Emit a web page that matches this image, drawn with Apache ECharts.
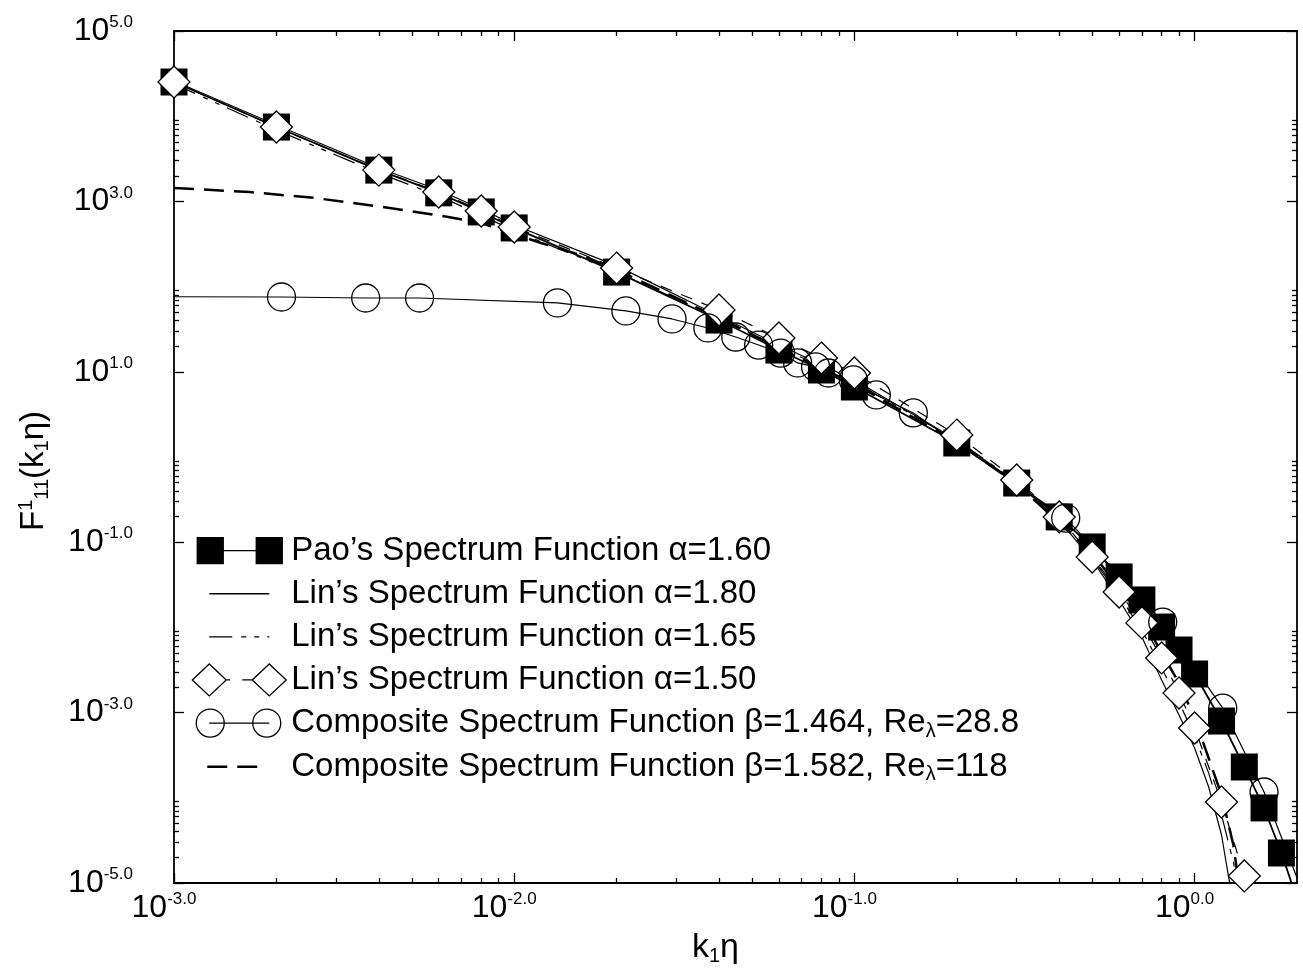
<!DOCTYPE html>
<html>
<head>
<meta charset="utf-8">
<script src="https://cdn.jsdelivr.net/npm/echarts@6/dist/echarts.min.js"></script>
<style>
html,body{margin:0;padding:0;background:#fff;}
#chart{width:1303px;height:975px;}
</style>
</head>
<body>
<div id="chart"></div>
<script>
// ---------------- axis ticks & labels ----------------
const xMajorTicks = [0.001, 0.01, 0.1, 1];
const xTickExps   = ['-3.0', '-2.0', '-1.0', '0.0'];
const xMinorTicks = [0.002,0.003,0.004,0.005,0.006,0.007,0.008,0.009,
                     0.02,0.03,0.04,0.05,0.06,0.07,0.08,0.09,
                     0.2,0.3,0.4,0.5,0.6,0.7,0.8,0.9];
const yMajorTicks = [1e-5, 1e-3, 1e-1, 1e1, 1e3, 1e5];
const yTickExps   = ['-5.0', '-3.0', '-1.0', '1.0', '3.0', '5.0'];
const yMinorTicks = [2e-5,3e-5,4e-5,5e-5,6e-5,7e-5,8e-5,9e-5,
                     2e-3,3e-3,4e-3,5e-3,6e-3,7e-3,8e-3,9e-3,
                     0.2,0.3,0.4,0.5,0.6,0.7,0.8,0.9,
                     20,30,40,50,60,70,80,90,
                     2000,3000,4000,5000,6000,7000,8000,9000];

// ---------------- series names ----------------
const names = [
  'Pao\u2019s Spectrum Function \u03b1=1.60',
  'Lin\u2019s Spectrum Function \u03b1=1.80',
  'Lin\u2019s Spectrum Function \u03b1=1.65',
  'Lin\u2019s Spectrum Function \u03b1=1.50',
  'Composite Spectrum Function \u03b2=1.464, Re\u03bb=28.8',
  'Composite Spectrum Function \u03b2=1.582, Re\u03bb=118'
];

// ---------------- data (k1*eta, F11) ----------------
// Pao alpha=1.60 (filled squares)
const paoK = [0.001,0.002,0.004,0.006,0.008,0.01,0.02,0.04,0.06,0.08,0.1,0.2,0.3,0.4,0.5,0.6,0.7,0.8,0.9,1.0,1.2,1.4,1.6,1.8];
const paoF = [2.52e4,7.46e3,2.33e3,1.26e3,752,488,148,40.5,18.0,10.5,6.63,1.46,0.495,0.198,0.0879,0.0391,0.0210,0.0101,0.00543,0.00284,7.96e-4,2.30e-4,7.6e-5,2.25e-5];
const paoTailK = [2.0];
const paoTailF = [6.5e-6];

// Lin alpha=1.80 (thin solid)
const lin180K = [0.001,0.002,0.004,0.006,0.008,0.01,0.02,0.04,0.06,0.1,0.2,0.3,0.4,0.5,0.6,0.7,0.8,0.9,1.0,1.1,1.2,1.3];
const lin180F = [2.59e4,7.89e3,2.47e3,1.36e3,815,528,175,45.2,20.6,8.02,1.58,0.495,0.182,0.0618,0.0210,0.00771,0.00241,9.37e-4,3.84e-4,1.34e-4,3.66e-5,5.5e-6];

// Lin alpha=1.65 (dash pattern)
const lin165K = [0.001,0.002,0.004,0.006,0.008,0.01,0.02,0.04,0.06,0.1,0.2,0.3,0.4,0.5,0.6,0.7,0.8,0.9,1.0,1.1,1.2,1.3,1.4];
const lin165F = [2.39e4,6.88e3,2.15e3,1.16e3,692,449,148,42.9,19.6,7.59,1.58,0.509,0.187,0.0653,0.0234,0.00932,0.00334,0.00133,5.31e-4,1.95e-4,6.28e-5,1.76e-5,4.2e-6];

// Lin alpha=1.50 (open diamonds)
const lin150K = [0.001,0.002,0.004,0.006,0.008,0.01,0.02,0.04,0.06,0.08,0.1,0.2,0.3,0.4,0.5,0.6,0.7,0.8,0.9,1.0,1.2,1.4];
const lin150F = [2.52e4,7.46e3,2.33e3,1.29e3,771,501,165,53.1,24.9,14.5,9.69,1.81,0.537,0.198,0.0670,0.0260,0.0113,0.00438,0.00170,6.59e-4,8.93e-5,1.21e-5];
const lin150TailK = [1.5];
const lin150TailF = [4.0e-6];

// Composite beta=1.464, Re=28.8 (open circles)
const c288HeadK = [0.001];
const c288HeadF = [76];
const c288K = [0.00207,0.00366,0.00527,0.0134,0.0213,0.0291,0.0371,0.0448,0.0523,0.0607,0.0681,0.0769,0.0839,0.0993,0.116,0.149,0.418,0.806,1.21,1.60];
const c288F = [75.5,73.5,73.5,64.3,51.8,41.7,32.7,25.6,20.6,16.6,12.7,11.4,9.68,8.02,5.35,3.29,0.192,0.01156,1.13e-3,1.17e-4];
const c288TailK = [2.0];
const c288TailF = [1.15e-5];

// Composite beta=1.582, Re=118 (long dashes)
const c118K = [0.001,0.00167,0.0026,0.0041,0.0064,0.008,0.012,0.016,0.02,0.04,0.06,0.1,0.2,0.3,0.5,0.7,0.9,1.0,1.2,1.3,1.4];
const c118F = [1436,1288,1096,860,656,557,325,229,157,42.9,19.0,7.19,1.50,0.482,0.0747,0.0129,0.00222,8.63e-4,1.08e-4,2.79e-5,3.5e-6];

// ---------------- helpers ----------------
function pairs(ks, fs) { return ks.map((k, i) => [k, fs[i]]); }
function plain(ks, fs) { return ks.map((k, i) => ({ value: [k, fs[i]], symbol: 'none' })); }
function withMarkers(headK, headF, mk, mf, tailK, tailF) {
  return plain(headK, headF).concat(pairs(mk, mf)).concat(plain(tailK, tailF));
}
function expLabel(v, ticks, exps) {
  for (let i = 0; i < ticks.length; i++) {
    if (Math.abs(Math.log10(v) - Math.log10(ticks[i])) < 1e-6) return '{b|10}{s|' + exps[i] + '}';
  }
  return '';
}

const FONT = '"Liberation Sans", Arial, Helvetica, sans-serif';
const BLACK = '#000';
const tickRich = {
  b: { fontSize: 32, fontFamily: FONT, color: BLACK, lineHeight: 34 },
  s: { fontSize: 17, fontFamily: FONT, color: BLACK, lineHeight: 12, verticalAlign: 'top' }
};

function xAxisDef(pos, major, withLabels) {
  const ax = {
    type: 'log', logBase: 10, min: 0.001, max: 2, position: pos,
    axisLine: { show: major, lineStyle: { color: BLACK, width: 1.8 } },
    axisTick: { show: true, inside: true, length: major ? 10 : 5,
                customValues: major ? xMajorTicks : xMinorTicks,
                lineStyle: { color: BLACK, width: 1.3 } },
    minorTick: { show: false },
    splitLine: { show: false },
    axisLabel: { show: false }
  };
  if (withLabels) {
    ax.axisLabel = {
      show: true, customValues: xMajorTicks, margin: 8, padding: [0, 20, 0, 0],
      formatter: v => expLabel(v, xMajorTicks, xTickExps), rich: tickRich
    };
    ax.name = '{k|k}{sub|1}{k|\u03b7}';
    ax.nameLocation = 'middle';
    ax.nameGap = 47;
    ax.nameTextStyle = {
      padding: [0, 40, 0, 0],
      rich: {
        k: { fontSize: 34, fontFamily: FONT, color: BLACK, lineHeight: 36 },
        sub: { fontSize: 20, fontFamily: FONT, color: BLACK, lineHeight: 16, verticalAlign: 'bottom' }
      }
    };
  }
  return ax;
}
function yAxisDef(pos, major, withLabels) {
  const ax = {
    type: 'log', logBase: 10, min: 1e-5, max: 1e5, position: pos,
    axisLine: { show: major, lineStyle: { color: BLACK, width: 1.8 } },
    axisTick: { show: true, inside: true, length: major ? 10 : 5,
                customValues: major ? yMajorTicks : yMinorTicks,
                lineStyle: { color: BLACK, width: 1.3 } },
    minorTick: { show: false },
    splitLine: { show: false },
    axisLabel: { show: false }
  };
  if (withLabels) {
    ax.axisLabel = {
      show: true, customValues: yMajorTicks, margin: 41,
      formatter: v => expLabel(v, yMajorTicks, yTickExps), rich: tickRich
    };
    ax.name = '{k|F}{sup|1}{sub|11}{k|(k}{sub|1}{k|\u03b7)}';
    ax.nameLocation = 'middle';
    ax.nameRotate = 90;
    ax.nameGap = 122;
    ax.nameTextStyle = {
      padding: [0, 28, 0, 0],
      rich: {
        k: { fontSize: 33, fontFamily: FONT, color: BLACK, lineHeight: 36 },
        sub: { fontSize: 20, fontFamily: FONT, color: BLACK, lineHeight: 16, verticalAlign: 'bottom' },
        sup: { fontSize: 20, fontFamily: FONT, color: BLACK, lineHeight: 16, verticalAlign: 'top' }
      }
    };
  }
  return ax;
}

const dashLin165 = [23, 9, 5, 8, 5, 8];
const dashLin150 = [12, 10];
const dashC118 = [20, 10];
const CLEAR = 'rgba(0,0,0,0)';

const legendIcons = [
  'path://M5,5H31V31H5Z M64,5H90V31H64Z M31,18H64 M0,0 M94,36',
  'path://M17,18H77 M0,0 M94,36',
  'path://M17,18H77 M0,0 M94,36',
  'path://M0,18L17,2L34,18L17,34Z M60,18L77,2L94,18L77,34Z M34,18H38 M50,18H60 M0,0 M94,36',
  'path://M4,18A14,14,0,1,0,32,18A14,14,0,1,0,4,18Z M60.5,18A14,14,0,1,0,88.5,18A14,14,0,1,0,60.5,18Z M17,18H77 M0,0 M94,36',
  'path://M15,18H67 M0,0 M94,36'
];
const legendStyles = [
  { color: BLACK, borderColor: BLACK, borderWidth: 1.3 },
  { color: CLEAR, borderColor: BLACK, borderWidth: 1.3 },
  { color: CLEAR, borderColor: BLACK, borderWidth: 1.3, borderType: dashLin165 },
  { color: '#fff', borderColor: BLACK, borderWidth: 1.3 },
  { color: CLEAR, borderColor: BLACK, borderWidth: 1.3 },
  { color: CLEAR, borderColor: BLACK, borderWidth: 2.5, borderType: dashC118 }
];

const option = {
  animation: false,
  backgroundColor: '#fff',
  grid: { left: 174, right: 6, top: 31, bottom: 92, containLabel: false, outerBoundsMode: 'none' },
  legend: {
    orient: 'vertical', left: 191, top: 532, padding: 0,
    itemWidth: 94, itemHeight: 36, itemGap: 5.8, selectedMode: false,
    data: names.map((n, i) => ({ name: n, icon: legendIcons[i], itemStyle: legendStyles[i] })),
    formatter: n => '{t|' + n.replace('Re\u03bb', 'Re}{sub|\u03bb}{t|') + '}',
    textStyle: {
      color: BLACK, fontSize: 33, fontFamily: FONT,
      rich: {
        t: { fontSize: 33, fontFamily: FONT, color: BLACK, lineHeight: 36 },
        sub: { fontSize: 20, fontFamily: FONT, color: BLACK, lineHeight: 15, verticalAlign: 'bottom' }
      }
    }
  },
  xAxis: [
    xAxisDef('bottom', true, true),
    xAxisDef('bottom', false, false),
    xAxisDef('top', true, false),
    xAxisDef('top', false, false)
  ],
  yAxis: [
    yAxisDef('left', true, true),
    yAxisDef('left', false, false),
    yAxisDef('right', true, false),
    yAxisDef('right', false, false)
  ],
  series: [
    {
      name: names[0], type: 'line',
      data: withMarkers([], [], paoK, paoF, paoTailK, paoTailF),
      symbol: 'rect', symbolSize: 27,
      lineStyle: { color: BLACK, width: 1.8 },
      itemStyle: { color: BLACK }
    },
    {
      name: names[1], type: 'line',
      data: pairs(lin180K, lin180F), symbol: 'none',
      lineStyle: { color: BLACK, width: 1.2 }
    },
    {
      name: names[2], type: 'line',
      data: pairs(lin165K, lin165F), symbol: 'none',
      lineStyle: { color: BLACK, width: 1.2, type: dashLin165 }
    },
    {
      name: names[3], type: 'line',
      data: withMarkers([], [], lin150K, lin150F, lin150TailK, lin150TailF),
      symbol: 'diamond', symbolSize: 32,
      lineStyle: { color: BLACK, width: 1.2, type: dashLin150 },
      itemStyle: { color: '#fff', borderColor: BLACK, borderWidth: 1.3 }
    },
    {
      name: names[4], type: 'line',
      data: withMarkers(c288HeadK, c288HeadF, c288K, c288F, c288TailK, c288TailF),
      symbol: 'circle', symbolSize: 28,
      lineStyle: { color: BLACK, width: 1.2 },
      itemStyle: { color: CLEAR, borderColor: BLACK, borderWidth: 1.3 }
    },
    {
      name: names[5], type: 'line',
      data: pairs(c118K, c118F), symbol: 'none',
      lineStyle: { color: BLACK, width: 2.5, type: dashC118 }
    }
  ]
};

const chart = echarts.init(document.getElementById('chart'), null, { renderer: 'canvas' });
chart.setOption(option);
</script>
</body>
</html>
